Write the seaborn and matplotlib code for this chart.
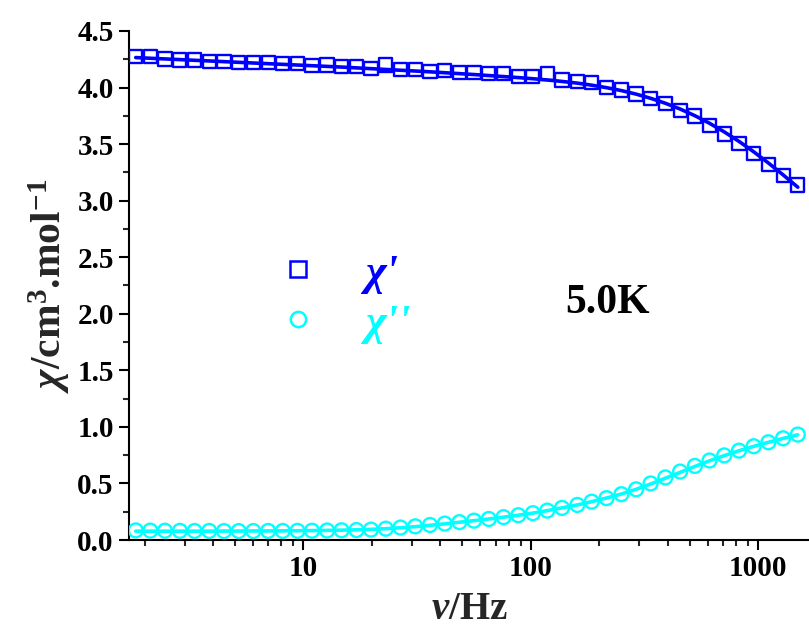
import numpy as np
import pandas as pd
import matplotlib
matplotlib.use("Agg")
import matplotlib.pyplot as plt
from matplotlib.lines import Line2D
from matplotlib.ticker import FixedLocator, FixedFormatter, NullFormatter, MultipleLocator, FormatStrFormatter
import seaborn as sns

freq = [1.83, 2.12, 2.46, 2.86, 3.32, 3.85, 4.47, 5.19, 6.02, 6.99, 8.11, 9.41,
        10.9, 12.7, 14.7, 17.1, 19.8, 23.0, 26.7, 31.0, 36.0, 41.8, 48.5, 56.2,
        65.3, 75.8, 88.0, 102, 118, 137, 160, 185, 215, 250, 290, 336, 390, 453,
        526, 610, 708, 822, 954, 1107, 1285, 1491]

chi1 = [4.274, 4.272, 4.253, 4.244, 4.243, 4.233, 4.232, 4.225, 4.220, 4.222,
        4.211, 4.210, 4.196, 4.200, 4.185, 4.186, 4.170, 4.200, 4.156, 4.160,
        4.144, 4.150, 4.135, 4.135, 4.126, 4.126, 4.097, 4.098, 4.126, 4.067,
        4.052, 4.044, 4.003, 3.979, 3.943, 3.905, 3.861, 3.796, 3.749, 3.667,
        3.590, 3.507, 3.419, 3.322, 3.221, 3.139]

chi1_fit = [4.265, 4.259, 4.253, 4.247, 4.241, 4.235, 4.229, 4.223, 4.217, 4.211,
            4.205, 4.199, 4.193, 4.187, 4.181, 4.174, 4.167, 4.160, 4.153, 4.146,
            4.139, 4.131, 4.123, 4.115, 4.106, 4.097, 4.088, 4.078, 4.067, 4.054,
            4.039, 4.021, 3.999, 3.973, 3.942, 3.905, 3.861, 3.810, 3.751, 3.684,
            3.608, 3.524, 3.432, 3.333, 3.228, 3.119]

chi2 = [0.085, 0.083, 0.082, 0.081, 0.080, 0.080, 0.079, 0.079, 0.079, 0.080,
        0.080, 0.081, 0.082, 0.084, 0.086, 0.088, 0.092, 0.100, 0.110, 0.121,
        0.133, 0.145, 0.158, 0.171, 0.186, 0.202, 0.219, 0.237, 0.260, 0.284,
        0.310, 0.339, 0.370, 0.405, 0.448, 0.500, 0.553, 0.605, 0.655, 0.703,
        0.748, 0.790, 0.829, 0.864, 0.899, 0.932]

chi2_fit = [0.078, 0.078, 0.078, 0.078, 0.078, 0.078, 0.079, 0.079, 0.080, 0.080,
            0.081, 0.082, 0.083, 0.085, 0.087, 0.090, 0.094, 0.100, 0.108, 0.118,
            0.130, 0.143, 0.157, 0.171, 0.186, 0.202, 0.219, 0.238, 0.260, 0.284,
            0.310, 0.339, 0.371, 0.407, 0.448, 0.495, 0.546, 0.598, 0.650, 0.700,
            0.746, 0.789, 0.828, 0.864, 0.898, 0.930]

x_ticks = [10, 100, 1000]
x_ticklabels = ["10", "100", "1000"]
legend_labels = ["χ'", "χ''"]
temp_label = "5.0K"

BLUE = "#0000FF"
CYAN = "#00FFFF"

sns.set_style("ticks")
plt.rcParams["font.family"] = ["Liberation Serif", "DejaVu Serif"]
plt.rcParams["font.weight"] = "bold"
plt.rcParams["mathtext.fontset"] = "custom"
plt.rcParams["mathtext.rm"] = "Liberation Serif:bold"
plt.rcParams["mathtext.it"] = "Liberation Serif:italic:bold"
plt.rcParams["mathtext.bf"] = "Liberation Serif:bold"

df = pd.DataFrame({"freq": freq, "chi1": chi1, "chi1_fit": chi1_fit,
                   "chi2": chi2, "chi2_fit": chi2_fit})

fig = plt.figure(figsize=(8.09, 6.35), dpi=100)
ax = fig.add_axes([0.1595, 0.1496, 0.8405, 0.8016])

sns.lineplot(data=df, x="freq", y="chi1_fit", ax=ax, color=BLUE, lw=2.6, zorder=2)
sns.lineplot(data=df, x="freq", y="chi2_fit", ax=ax, color=CYAN, lw=2.6, zorder=2)
sns.scatterplot(data=df, x="freq", y="chi1", ax=ax, marker="s", s=90,
                facecolors="none", edgecolor=BLUE, linewidth=1.7, zorder=3)
sns.scatterplot(data=df, x="freq", y="chi2", ax=ax, marker="o", s=100,
                facecolors="none", edgecolor=CYAN, linewidth=1.7, zorder=3)

ax.set_xscale("log")
ax.set_xlim(1.71, 1670)
ax.set_ylim(0, 4.5)

for s in ["top", "right"]:
    ax.spines[s].set_visible(False)
for s in ["left", "bottom"]:
    ax.spines[s].set_linewidth(1.5)
    ax.spines[s].set_color("black")

ax.xaxis.set_major_locator(FixedLocator(x_ticks))
ax.xaxis.set_major_formatter(FixedFormatter(x_ticklabels))
ax.xaxis.set_minor_formatter(NullFormatter())
ax.yaxis.set_major_locator(MultipleLocator(0.5))
ax.yaxis.set_minor_locator(MultipleLocator(0.25))
ax.yaxis.set_major_formatter(FormatStrFormatter("%.1f"))

ax.tick_params(axis="both", which="major", direction="out", length=7, width=1.5,
               labelsize=21, pad=4, colors="black")
ax.tick_params(axis="both", which="minor", direction="out", length=4, width=1.5)
for lab in ax.get_xticklabels() + ax.get_yticklabels():
    lab.set_fontweight("bold")

ax.set_xlabel(r"$\nu$/Hz", fontsize=28, fontweight="bold", labelpad=6)
ax.set_ylabel(r"$\chi$/cm$^{3}$.mol$^{-1}$", fontsize=30, fontweight="bold", labelpad=4)

handles = [Line2D([], [], ls="none", marker="s", ms=11, mfc="none", mec=BLUE, mew=1.8),
           Line2D([], [], ls="none", marker="o", ms=11, mfc="none", mec=CYAN, mew=1.8)]
leg = ax.legend(handles, legend_labels, loc="upper left", frameon=False,
                bbox_to_anchor=(0.19, 0.597), handlelength=1.0, handletextpad=1.0,
                labelspacing=0.22, borderaxespad=0.0,
                prop={"family": "Liberation Serif", "style": "italic",
                      "weight": "bold", "size": 32})
for t, c in zip(leg.get_texts(), [BLUE, CYAN]):
    t.set_color(c)

ax.text(0.704, 0.466, temp_label, transform=ax.transAxes, fontsize=30,
        fontweight="bold", ha="center", va="center", color="black")

fig.savefig("out.png", dpi=100)
